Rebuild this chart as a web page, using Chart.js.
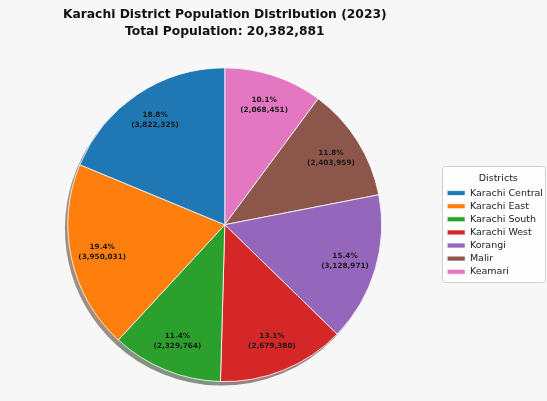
<!DOCTYPE html>
<html>
<head>
<meta charset="utf-8">
<script src="https://cdn.jsdelivr.net/npm/chart.js@4.4.1/dist/chart.umd.min.js"></script>
<style>
  html, body { margin: 0; padding: 0; background: #f7f7f8; }
  #wrap { width: 547px; height: 401px; }
</style>
</head>
<body>
<div id="wrap"><canvas id="c" width="547" height="401"></canvas></div>
<script>
// Data (legend order)
const districts = ['Karachi Central', 'Karachi East', 'Karachi South', 'Karachi West', 'Korangi', 'Malir', 'Keamari'];
const population = [3822325, 3950031, 2329764, 2679380, 3128971, 2403959, 2068451];
const colors = ['#1f77b4', '#ff7f0e', '#2ca02c', '#d62728', '#9467bd', '#8c564b', '#e377c2'];
const titleLines = ['Karachi District Population Distribution (2023)', 'Total Population: 20,382,881'];
const legendTitle = 'Districts';

const total = population.reduce((a, b) => a + b, 0);

// Matplotlib draws counter-clockwise from the top; Chart.js draws clockwise,
// so the library is fed reversed arrays and the legend is reversed back.
const revLabels = districts.slice().reverse();
const revValues = population.slice().reverse();
const revColors = colors.slice().reverse();

function darken(hex) {
  const n = parseInt(hex.slice(1), 16);
  const r = Math.round(((n >> 16) & 255) * 0.3);
  const g = Math.round(((n >> 8) & 255) * 0.3);
  const b = Math.round((n & 255) * 0.3);
  return `rgba(${r},${g},${b},0.5)`;
}

const bgPlugin = {
  id: 'bg',
  beforeDraw(chart) {
    const ctx = chart.ctx;
    ctx.save();
    ctx.fillStyle = '#f7f7f8';
    ctx.fillRect(0, 0, chart.width, chart.height);
    const lg = chart.legend;
    if (lg && lg.legendHitBoxes && lg.legendHitBoxes.length) {
      const hb = lg.legendHitBoxes;
      const minL = Math.min(...hb.map(b => b.left));
      const maxT = Math.max(...hb.map(b => b.top + b.height));
      const minT = Math.min(...hb.map(b => b.top));
      const x = Math.round(minL - 5) + 0.5;
      const y = Math.round(minT - 22) + 0.5;
      const w = chart.width - 1.5 - x;
      const h = Math.round(maxT + 6) + 0.5 - y;
      const r = 3;
      ctx.beginPath();
      ctx.moveTo(x + r, y);
      ctx.arcTo(x + w, y, x + w, y + h, r);
      ctx.arcTo(x + w, y + h, x, y + h, r);
      ctx.arcTo(x, y + h, x, y, r);
      ctx.arcTo(x, y, x + w, y, r);
      ctx.closePath();
      ctx.fillStyle = 'rgba(255,255,255,0.85)';
      ctx.fill();
      ctx.strokeStyle = '#d0d0d0';
      ctx.lineWidth = 1;
      ctx.stroke();
    }
    ctx.restore();
  }
};

const shadowPlugin = {
  id: 'shadow',
  beforeDatasetsDraw(chart) {
    const ctx = chart.ctx;
    const meta = chart.getDatasetMeta(0);
    ctx.save();
    meta.data.forEach((arc, i) => {
      const p = arc.getProps(['x', 'y', 'startAngle', 'endAngle', 'outerRadius'], true);
      ctx.beginPath();
      ctx.moveTo(p.x - 3, p.y + 4);
      ctx.arc(p.x - 3, p.y + 4, p.outerRadius, p.startAngle, p.endAngle);
      ctx.closePath();
      ctx.fillStyle = darken(revColors[i]);
      ctx.fill();
    });
    ctx.restore();
  }
};

const labelPlugin = {
  id: 'sliceLabels',
  afterDatasetsDraw(chart) {
    const ctx = chart.ctx;
    const meta = chart.getDatasetMeta(0);
    ctx.save();
    ctx.font = 'bold 7.3px "DejaVu Sans"';
    ctx.fillStyle = '#1a1a1a';
    ctx.textAlign = 'center';
    ctx.textBaseline = 'middle';
    meta.data.forEach((arc, i) => {
      const p = arc.getProps(['x', 'y', 'startAngle', 'endAngle', 'outerRadius'], true);
      const mid = (p.startAngle + p.endAngle) / 2;
      const r = p.outerRadius * 0.8;
      const x = p.x + r * Math.cos(mid);
      const y = p.y + r * Math.sin(mid);
      const v = revValues[i];
      const pct = (v / total * 100).toFixed(1) + '%';
      ctx.fillText(pct, x, y - 5);
      ctx.fillText('(' + v.toLocaleString('en-US') + ')', x, y + 5);
    });
    ctx.restore();
  }
};

new Chart(document.getElementById('c'), {
  type: 'pie',
  data: {
    labels: revLabels,
    datasets: [{
      data: revValues,
      backgroundColor: revColors,
      borderColor: '#ffffff',
      borderWidth: 0.8,
      hoverOffset: 0
    }]
  },
  options: {
    responsive: false,
    animation: false,
    rotation: 0,
    layout: { padding: { left: 6, right: -6, top: 0, bottom: 19 } },
    plugins: {
      tooltip: { enabled: false },
      title: {
        display: true,
        fullSize: false,
        text: titleLines,
        color: '#111',
        font: { family: '"DejaVu Sans"', size: 12.3, weight: 'bold', lineHeight: 1.4 },
        padding: { top: 6, bottom: 27 }
      },
      legend: {
        position: 'right',
        fullSize: false,
        reverse: true,
        title: {
          display: true,
          text: legendTitle,
          color: '#222',
          font: { family: '"DejaVu Sans"', size: 9.5 },
          padding: { top: 4, bottom: 0 }
        },
        labels: {
          color: '#222',
          font: { family: '"DejaVu Sans"', size: 9.5 },
          boxWidth: 18,
          boxHeight: 5,
          padding: 3.6
        }
      }
    }
  },
  plugins: [bgPlugin, shadowPlugin, labelPlugin]
});
</script>
</body>
</html>
